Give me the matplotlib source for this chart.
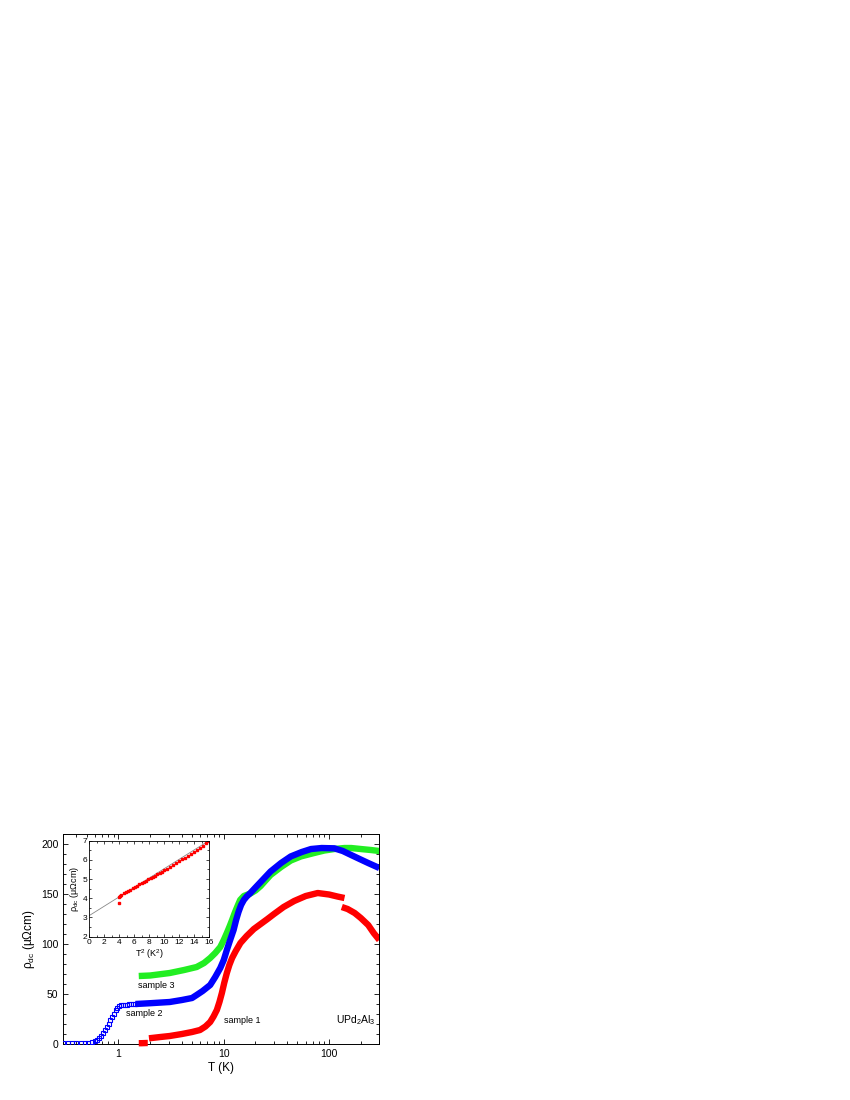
import numpy as np
import matplotlib
matplotlib.use("Agg")
import matplotlib.pyplot as plt
from matplotlib.ticker import MultipleLocator, LogLocator, NullFormatter, FixedLocator

plt.rcParams['font.family'] = ['Liberation Sans', 'DejaVu Sans']
plt.rcParams['mathtext.fontset'] = 'custom'
plt.rcParams['mathtext.rm'] = 'Liberation Sans'
plt.rcParams['mathtext.it'] = 'Liberation Sans:italic'

# ---- data ----
# sample 1 (red)
s1a_T = [1.56, 1.65, 1.75, 1.85, 1.9]
s1a_r = [0.8, 0.8, 0.9, 1.0, 1.0]
s1b_T = [1.95, 2.5, 3.07, 4.0, 5.0, 5.95, 6.7, 7.43, 8.0, 8.6, 9.1, 9.6, 10.1, 10.7, 11.3, 12.0, 13.0, 14.4,
         16.5, 19.3, 22.4, 26, 30, 37, 46.6, 60, 78, 100, 120, 140]
s1b_r = [5.7, 7.0, 8.0, 10.0, 12.0, 14.0, 17.5, 22, 27.5, 34, 42, 51, 61, 71, 79, 86, 93, 101,
         108, 115, 120, 125, 130, 137, 143, 148, 151, 149.5, 147.5, 146]
s1c_T = [132, 150, 175, 200, 235, 265, 300]
s1c_r = [137, 135, 131, 126, 119, 111, 104]

# sample 2 (blue): open squares at low T, filled trace above
s2o_T = [0.30, 0.33, 0.36, 0.40, 0.44, 0.48, 0.52, 0.56, 0.60, 0.63, 0.66, 0.69, 0.72, 0.75, 0.78, 0.81,
         0.84, 0.87, 0.90, 0.94, 0.98, 1.02, 1.06, 1.10, 1.15, 1.20, 1.26, 1.32, 1.38, 1.45]
s2o_r = [0.8, 0.8, 0.8, 0.9, 0.9, 1.0, 1.3, 1.8, 2.6, 4.0, 6.0, 8.5, 11, 14, 17, 20.5,
         24, 27.5, 30.5, 34, 36.5, 38, 38.8, 39.2, 39.4, 39.5, 39.6, 39.7, 39.8, 39.9]
s2_T = [1.45, 2.0, 3.07, 4.0, 5.0, 5.53, 6.3, 7.43, 8.3, 9.27, 10.0, 10.7, 11.5, 12.4, 13.1, 13.8, 14.6, 15.5,
        16.5, 17.9, 20, 22.4, 27.8, 35, 43.3, 55, 67.4, 85, 112, 135, 162, 195, 235, 300]
s2_r = [40, 40.8, 42, 44, 46, 49, 53, 59, 67, 76, 84, 94, 104, 114, 124, 132, 139, 144,
        147.5, 151, 156.5, 162, 172.5, 181, 187.6, 192, 195, 196, 195.7, 193, 189, 185, 181, 176]

# sample 3 (green)
s3_T = [1.56, 2.0, 3.07, 4.2, 5.53, 6.5, 7.43, 8.3, 9.27, 10.0, 10.7, 11.4, 12.0, 12.7, 13.4, 14.3, 15.5, 17.9,
        20, 22.4, 27.8, 35, 43.3, 54, 72, 90, 112, 140, 162, 200, 250, 300]
s3_r = [68, 68.5, 71, 74, 77, 81, 86, 91, 97, 104, 111, 118, 124, 131, 137, 144, 148, 150.5,
        153.5, 158, 169, 177, 183.5, 187.6, 191, 193.5, 195, 196, 196, 195, 194, 193]

# inset: rho_dc vs T^2
in_T2 = [4.0, 4.1, 4.3, 4.6, 4.9, 5.2, 5.5, 5.8, 6.1, 6.4, 6.7, 7.0, 7.3, 7.6, 7.9, 8.2, 8.5, 8.8, 9.1,
         9.4, 9.7, 10.0, 10.4, 10.8, 11.2, 11.6, 12.0, 12.4, 12.8, 13.2, 13.6, 14.0, 14.4, 14.8, 15.2, 15.6, 16.0]
in_r = [4.05, 4.12, 4.18, 4.25, 4.32, 4.38, 4.45, 4.52, 4.58, 4.65, 4.72, 4.78, 4.85, 4.92, 4.98, 5.05, 5.12, 5.18, 5.25,
        5.32, 5.38, 5.45, 5.53, 5.62, 5.72, 5.82, 5.92, 6.02, 6.12, 6.22, 6.32, 6.42, 6.52, 6.62, 6.74, 6.86, 6.98]
in_out_T2 = [4.0]
in_out_r = [3.75]
fit_T2 = [0, 16]
fit_r = [3.1, 7.0]

RED = '#ff0000'
BLUE = '#0000ff'
GREEN = '#22ee22'

fig = plt.figure(figsize=(8.5, 11), dpi=100)
ax = fig.add_axes([0.0745, 0.0509, 0.3718, 0.1909])

lw = 4.6
kw = dict(lw=lw, solid_capstyle='butt', solid_joinstyle='round')
ax.plot(s3_T, s3_r, color=GREEN, zorder=2, **kw)
ax.plot(s2_T, s2_r, color=BLUE, zorder=3, **kw)
ax.plot(s2o_T, s2o_r, ls='none', marker='s', ms=3.2, mfc='none', mec=BLUE, mew=0.8, zorder=3)
ax.plot(s1a_T, s1a_r, color=RED, zorder=4, clip_on=False, **kw)
ax.plot(s1b_T, s1b_r, color=RED, zorder=4, **kw)
ax.plot(s1c_T, s1c_r, color=RED, zorder=4, **kw)

ax.set_xscale('log')
ax.set_xlim(0.3, 300)
ax.set_ylim(0, 210)
ax.yaxis.set_major_locator(MultipleLocator(50))
ax.yaxis.set_minor_locator(MultipleLocator(10))
ax.xaxis.set_major_locator(FixedLocator([1, 10, 100]))
ax.xaxis.set_minor_locator(LogLocator(base=10, subs=np.arange(2, 10)))
ax.xaxis.set_minor_formatter(NullFormatter())
ax.set_xticklabels(['1', '10', '100'])
ax.tick_params(which='both', direction='in', top=True, right=True, labelsize=7.5, width=0.6)
ax.tick_params(which='major', length=3.5)
ax.tick_params(which='minor', length=2)
for s in ax.spines.values():
    s.set_linewidth(0.7)
ax.set_xlabel('T (K)', fontsize=8.5, labelpad=2)
ax.set_ylabel(r'ρ$_{\rm dc}$ (μΩcm)', fontsize=8.5, labelpad=3)

ax.text(1.52, 59, 'sample 3', fontsize=6.5, va='center', ha='left')
ax.text(1.18, 30.5, 'sample 2', fontsize=6.5, va='center', ha='left')
ax.text(10.1, 24, 'sample 1', fontsize=6.5, va='center', ha='left')
ax.text(278, 24, r'UPd$_{\rm 2}$Al$_{\rm 3}$', fontsize=7.5, va='center', ha='right')

# inset
ins = fig.add_axes([0.1051, 0.1485, 0.1408, 0.0873])
ins.plot(fit_T2, fit_r, color='#888888', lw=0.6, zorder=1)
ins.plot(in_T2, in_r, ls='none', marker='s', ms=1.6, color=RED, zorder=2)
ins.plot(in_out_T2, in_out_r, ls='none', marker='s', ms=1.6, color=RED, zorder=2)
ins.set_xlim(0, 16)
ins.set_ylim(2, 7)
ins.xaxis.set_major_locator(MultipleLocator(2))
ins.xaxis.set_minor_locator(MultipleLocator(1))
ins.yaxis.set_major_locator(MultipleLocator(1))
ins.yaxis.set_minor_locator(MultipleLocator(0.5))
ins.tick_params(which='both', direction='in', top=True, right=True, labelsize=6, width=0.5, pad=1.5)
ins.tick_params(which='major', length=2.5)
ins.tick_params(which='minor', length=1.3)
for s in ins.spines.values():
    s.set_linewidth(0.6)
ins.set_xlabel(r'T$^{\rm 2}$ (K$^{\rm 2}$)', fontsize=6.5, labelpad=1)
ins.set_ylabel(r'ρ$_{\rm dc}$ (μΩcm)', fontsize=6.5, labelpad=1)

fig.savefig('out.png', dpi=100)
